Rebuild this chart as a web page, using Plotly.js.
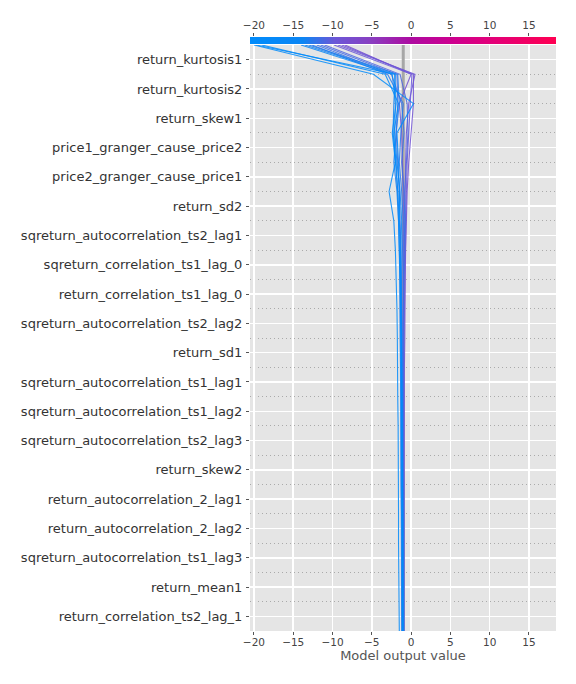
<!DOCTYPE html>
<html><head><meta charset="utf-8">
<script src="https://cdn.plot.ly/plotly-3.0.1.min.js"></script>
<style>body{margin:0;background:#fff}</style>
</head><body>
<div id="chart" style="width:576px;height:684px"></div>
<script>
// Features, top (most important) to bottom
const features = [
  "return_kurtosis1","return_kurtosis2","return_skew1","price1_granger_cause_price2",
  "price2_granger_cause_price1","return_sd2","sqreturn_autocorrelation_ts2_lag1",
  "sqreturn_correlation_ts1_lag_0","return_correlation_ts1_lag_0",
  "sqreturn_autocorrelation_ts2_lag2","return_sd1","sqreturn_autocorrelation_ts1_lag1",
  "sqreturn_autocorrelation_ts1_lag2","sqreturn_autocorrelation_ts2_lag3","return_skew2",
  "return_autocorrelation_2_lag1","return_autocorrelation_2_lag2",
  "sqreturn_autocorrelation_ts1_lag3","return_mean1","return_correlation_ts2_lag_1"
];
const baseValue = -1.0;
const xRange = [-20.5, 18.44];
const xTicks = [-20,-15,-10,-5,0,5,10,15];

// Cumulative model output per observation, from bottom boundary (y=0) to top (y=20)
const obs01 = [-1.05,-1.05,-1.05,-1.1,-1.1,-1.1,-1.15,-1.15,-1.2,-1.2,-1.25,-1.3,-1.3,-1.35,-1.4,-1.5,-1.6,-1.8,0.3,-4.8,-20.0];
const obs02 = [-1.5,-1.55,-1.55,-1.6,-1.6,-1.6,-1.65,-1.65,-1.7,-1.7,-1.75,-1.8,-1.9,-2.0,-2.2,-2.8,-2.0,-2.4,-1.9,-2.1,-19.7];
const obs03 = [-1.1,-1.1,-1.15,-1.15,-1.2,-1.2,-1.2,-1.25,-1.25,-1.3,-1.3,-1.35,-1.4,-1.5,-1.6,-1.7,-2.0,-2.2,-1.6,-3.3,-19.0];
const obs04 = [-1.0,-1.0,-1.0,-1.05,-1.05,-1.1,-1.1,-1.1,-1.15,-1.2,-1.2,-1.2,-1.25,-1.3,-1.2,-1.4,-1.8,-2.1,-2.0,-2.4,-14.0];
const obs05 = [-1.1,-1.1,-1.1,-1.1,-1.15,-1.15,-1.15,-1.2,-1.2,-1.2,-1.25,-1.3,-1.3,-1.35,-1.5,-1.7,-1.9,-2.3,-2.2,-2.0,-13.5];
const obs06 = [-1.2,-1.2,-1.2,-1.25,-1.25,-1.3,-1.3,-1.3,-1.35,-1.35,-1.4,-1.4,-1.45,-1.5,-1.6,-1.8,-2.2,-1.9,-1.5,-1.7,-13.0];
const obs07 = [-1.0,-1.0,-1.05,-1.05,-1.05,-1.1,-1.1,-1.1,-1.1,-1.15,-1.15,-1.2,-1.2,-1.1,-1.0,-1.2,-1.5,-1.3,-1.0,-3.0,-12.6];
const obs08 = [-0.9,-0.9,-0.9,-0.95,-0.95,-0.95,-1.0,-1.0,-1.0,-1.0,-1.05,-1.05,-1.0,-0.9,-0.8,-0.9,-1.2,-0.9,-1.2,-2.5,-12.0];
const obs09 = [-1.1,-1.1,-1.1,-1.1,-1.1,-1.15,-1.15,-1.15,-1.2,-1.2,-1.2,-1.25,-1.3,-1.3,-1.4,-1.5,-1.7,-1.9,-1.7,-1.8,-11.5];
const obs10 = [-1.0,-1.0,-1.0,-1.0,-1.05,-1.05,-1.05,-1.1,-1.1,-1.1,-1.05,-1.0,-0.9,-0.8,-0.7,-0.8,-0.6,-0.4,-0.5,-1.4,-11.0];
const obs11 = [-0.95,-0.95,-0.95,-0.95,-1.0,-1.0,-1.0,-1.0,-1.0,-0.95,-0.9,-0.85,-0.8,-0.75,-0.7,-0.6,-0.5,-0.3,-0.1,0.1,-9.8];
const obs12 = [-1.0,-1.0,-1.0,-1.0,-1.0,-1.0,-1.05,-1.05,-1.05,-1.0,-1.0,-0.95,-0.9,-0.9,-0.85,-0.8,-0.7,-0.6,-0.3,0.5,-9.3];
const obs13 = [-0.9,-0.9,-0.9,-0.9,-0.9,-0.9,-0.9,-0.9,-0.85,-0.85,-0.8,-0.8,-0.75,-0.7,-0.6,-0.5,-0.3,0.0,0.3,0.3,-8.8];
const obs14 = [-1.0,-1.0,-1.0,-1.0,-1.0,-1.0,-1.0,-1.0,-1.0,-1.0,-1.0,-1.0,-1.0,-1.0,-1.0,-1.0,-1.1,-1.2,-1.5,0.0,-8.4];
const observations = [obs14,obs13,obs12,obs11,obs10,obs09,obs08,obs07,obs06,obs05,obs04,obs03,obs02,obs01];

const colorscale = [
  [0,'#008bfb'],[0.17,'#0b86f4'],[0.275,'#6a58d8'],[0.398,'#8a3ec0'],
  [0.527,'#ae0aa0'],[0.655,'#cc0090'],[0.784,'#e2007a'],[0.912,'#f20062'],[1,'#ff0052']
];
function hex2rgb(h){return [parseInt(h.slice(1,3),16),parseInt(h.slice(3,5),16),parseInt(h.slice(5,7),16)];}
function colorFor(v){
  let t=(v-xRange[0])/(xRange[1]-xRange[0]); t=Math.max(0,Math.min(1,t));
  for(let i=1;i<colorscale.length;i++){
    if(t<=colorscale[i][0]){
      const a=colorscale[i-1], b=colorscale[i];
      const f=(t-a[0])/(b[0]-a[0]); const ca=hex2rgb(a[1]), cb=hex2rgb(b[1]);
      return 'rgb('+ca.map((c,k)=>Math.round(c+(cb[k]-c)*f)).join(',')+')';
    }
  }
  return colorscale[colorscale.length-1][1];
}

const nF = features.length;
const levels = Array.from({length:nF+1},(_,i)=>i);
const traces = [];
traces.push({x:[baseValue,baseValue], y:[0,nF], mode:'lines', line:{color:'#a6a6a6',width:3},
  hoverinfo:'skip', showlegend:false, xaxis:'x', yaxis:'y'});
observations.forEach(o=>{
  traces.push({x:o, y:levels, mode:'lines', line:{color:colorFor(o[o.length-1]),width:1.1},
    opacity:0.85, showlegend:false, xaxis:'x', yaxis:'y'});
});
// colour bar strip
const barX = Array.from({length:301},(_,i)=>xRange[0]+(xRange[1]-xRange[0])*i/300);
traces.push({type:'heatmap', x:barX, y:[0], z:[barX], colorscale:colorscale,
  zmin:xRange[0], zmax:xRange[1], showscale:false, xaxis:'x2', yaxis:'y2', hoverinfo:'skip'});

const H = 631-37;
const layout = {
  width:576, height:684,
  margin:{l:250, r:20, t:37, b:53},
  paper_bgcolor:'#ffffff', plot_bgcolor:'#e5e5e5',
  font:{family:'DejaVu Sans, sans-serif', color:'#444'},
  xaxis:{range:xRange, tickvals:xTicks, showgrid:true, gridcolor:'#ffffff', gridwidth:1.5,
    zeroline:false, showline:false, ticks:'outside', ticklen:3, tickcolor:'#555',
    tickfont:{size:10.5, color:'#444'}, anchor:'y', ticklabelstandoff:-2,
    title:{text:'Model output value', font:{size:13, color:'#555'}, standoff:4}},
  yaxis:{range:[0,nF], domain:[0,586/H], tickvals:features.map((_,i)=>nF-0.5-i), ticktext:features,
    showgrid:true, gridcolor:'#ffffff', gridwidth:1.5, zeroline:false, showline:false,
    ticks:'outside', ticklen:3, tickcolor:'#555', tickfont:{size:13, color:'#333'},
    ticklabelstandoff:1,
    minor:{tickvals:levels, showgrid:true, gridcolor:'#aaaaaa', griddash:'1px,3px', gridwidth:1, ticks:''}},
  xaxis2:{range:xRange, tickvals:xTicks, anchor:'y2', side:'top', showgrid:false, zeroline:false,
    ticks:'outside', ticklen:3, tickcolor:'#555', tickfont:{size:10.5, color:'#444'}, showline:false},
  yaxis2:{domain:[587/H,1], range:[-0.5,0.5], visible:false, fixedrange:true}
};
Plotly.newPlot('chart', traces, layout, {displayModeBar:false, staticPlot:true});
</script>
</body></html>
